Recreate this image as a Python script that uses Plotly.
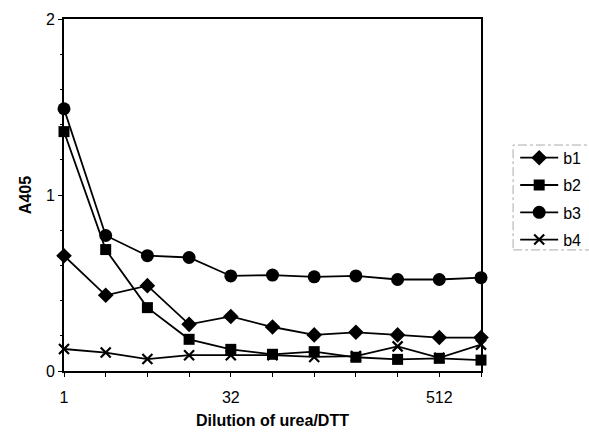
import plotly.graph_objects as go

# Data (dilution series, 2-fold steps; only some categories labelled)
x_index = list(range(11))
tick_labels = ["1", "", "", "", "32", "", "", "", "", "512", ""]
b1 = [0.655, 0.43, 0.485, 0.265, 0.31, 0.25, 0.205, 0.22, 0.205, 0.19, 0.19]
b2 = [1.36, 0.69, 0.36, 0.18, 0.123, 0.095, 0.11, 0.078, 0.066, 0.072, 0.062]
b3 = [1.49, 0.77, 0.655, 0.645, 0.54, 0.545, 0.535, 0.54, 0.52, 0.52, 0.53]
b4 = [0.125, 0.105, 0.068, 0.09, 0.09, 0.09, 0.08, 0.085, 0.14, 0.075, 0.15]

series = [
    ("b1", b1, "diamond", 12),
    ("b2", b2, "square", 11),
    ("b3", b3, "circle", 13),
    ("b4", b4, "x-thin", 10),
]

FONT = "Liberation Sans, Arial, sans-serif"
FS = 16

fig = go.Figure()
for i, (name, vals, sym, size) in enumerate(series):
    marker = dict(symbol=sym, size=size, color="black")
    if sym == "x-thin":
        marker["line"] = dict(width=2.2, color="black")
    fig.add_trace(go.Scatter(
        x=x_index, y=vals, name=name, mode="lines+markers",
        line=dict(color="black", width=1.8),
        marker=marker, cliponaxis=False, legendgroup=name,
    ))

fig.update_layout(
    width=589, height=434,
    margin=dict(l=64, r=108, t=19, b=63, autoexpand=False),
    paper_bgcolor="white", plot_bgcolor="white",
    font=dict(family=FONT, size=FS, color="black"),
    showlegend=True,
    legend=dict(
        x=1.082, y=0.654, xanchor="left", yanchor="top",
        bgcolor="rgba(0,0,0,0)", borderwidth=0,
        font=dict(family=FONT, size=FS, color="black"),
        traceorder="grouped", tracegroupgap=3.5, itemwidth=38,
    ),
    xaxis=dict(
        range=[0, 10], tickvals=x_index, ticktext=tick_labels,
        showgrid=False, zeroline=False, automargin=False,
        showline=True, linecolor="black", linewidth=2, mirror=True,
        ticks="outside", ticklen=4, tickcolor="black", tickwidth=1,
        tickfont=dict(size=FS), ticklabelstandoff=7,
        title=dict(text="<b>Dilution of urea/DTT</b>", font=dict(size=FS), standoff=10),
    ),
    yaxis=dict(
        range=[0, 2], tickvals=[0, 1, 2],
        showgrid=False, zeroline=False, automargin=False,
        showline=True, linecolor="black", linewidth=2, mirror=True,
        ticks="outside", ticklen=4, tickcolor="black", tickwidth=1,
        tickfont=dict(size=FS), ticklabelstandoff=0,
        minor=dict(dtick=0.2, ticks="outside", ticklen=2, tickcolor="black", showgrid=False),
        title=dict(text="<b>A405</b>", font=dict(size=FS), standoff=10),
    ),
    shapes=[dict(
        type="rect", xref="paper", yref="paper",
        x0=1.077, x1=1.27, y0=0.344, y1=0.642,
        line=dict(color="#aaaaaa", width=1, dash="dashdot"),
    )],
)

fig.write_html("out.html")
